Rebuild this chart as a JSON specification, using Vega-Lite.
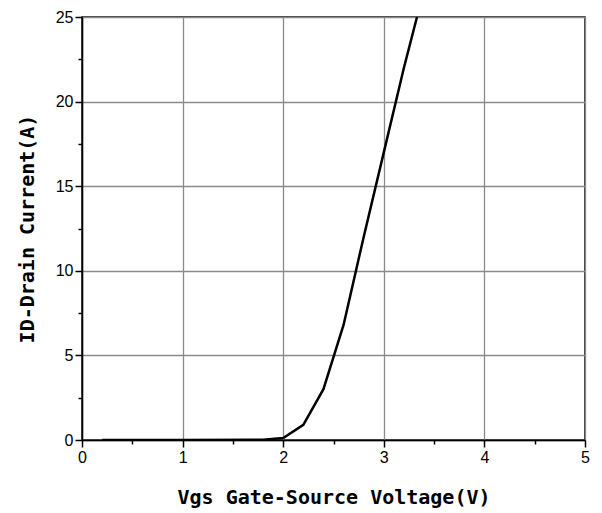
{
  "$schema": "https://vega.github.io/schema/vega-lite/v6.json",
  "autosize": "none",
  "width": 503,
  "height": 423,
  "padding": {"left": 82, "top": 17, "right": 17, "bottom": 73},
  "background": "white",
  "config": {
    "view": {"stroke": "black", "strokeWidth": 1.5},
    "axis": {
      "domainColor": "black",
      "domainWidth": 1.5,
      "tickColor": "black",
      "tickWidth": 1.5,
      "gridColor": "#8a8a8a",
      "gridWidth": 1.3,
      "gridOpacity": 1,
      "labelFont": "Liberation Sans",
      "labelFontSize": 16,
      "labelColor": "black",
      "labelFlush": false,
      "labelOverlap": false,
      "titleFont": "DejaVu Sans Mono",
      "titleFontWeight": "bold",
      "titleFontSize": 20,
      "titleColor": "black"
    }
  },
  "data": {
    "values": [
      {"vgs": 0.2, "id": 0},
      {"vgs": 1.0, "id": 0},
      {"vgs": 1.8, "id": 0.02},
      {"vgs": 2.0, "id": 0.12},
      {"vgs": 2.2, "id": 0.9},
      {"vgs": 2.4, "id": 3.0},
      {"vgs": 2.6, "id": 6.8},
      {"vgs": 2.8, "id": 12.0},
      {"vgs": 3.0, "id": 17.0},
      {"vgs": 3.2, "id": 22.0},
      {"vgs": 3.33, "id": 25.0}
    ]
  },
  "mark": {"type": "line", "color": "black", "strokeWidth": 2.5, "clip": true},
  "encoding": {
    "x": {
      "field": "vgs",
      "type": "quantitative",
      "scale": {"domain": [0, 5], "nice": false},
      "axis": {
        "title": "Vgs Gate-Source Voltage(V)",
        "values": [0, 0.5, 1, 1.5, 2, 2.5, 3, 3.5, 4, 4.5, 5],
        "labelExpr": "datum.value % 1 ? '' : format(datum.value, 'd')",
        "tickSize": {"condition": {"test": "datum.value % 1 !== 0", "value": 4}, "value": 7},
        "gridOpacity": {"condition": {"test": "datum.value % 1 !== 0", "value": 0}, "value": 1},
        "labelPadding": 2,
        "titlePadding": 22
      }
    },
    "y": {
      "field": "id",
      "type": "quantitative",
      "scale": {"domain": [0, 25], "nice": false},
      "axis": {
        "title": "ID-Drain Current(A)",
        "values": [0, 2.5, 5, 7.5, 10, 12.5, 15, 17.5, 20, 22.5, 25],
        "labelExpr": "datum.value % 5 ? '' : format(datum.value, 'd')",
        "tickSize": {"condition": {"test": "datum.value % 5 !== 0", "value": 4}, "value": 7},
        "gridOpacity": {"condition": {"test": "datum.value % 5 !== 0", "value": 0}, "value": 1},
        "labelPadding": 2,
        "titlePadding": 18
      }
    }
  }
}
